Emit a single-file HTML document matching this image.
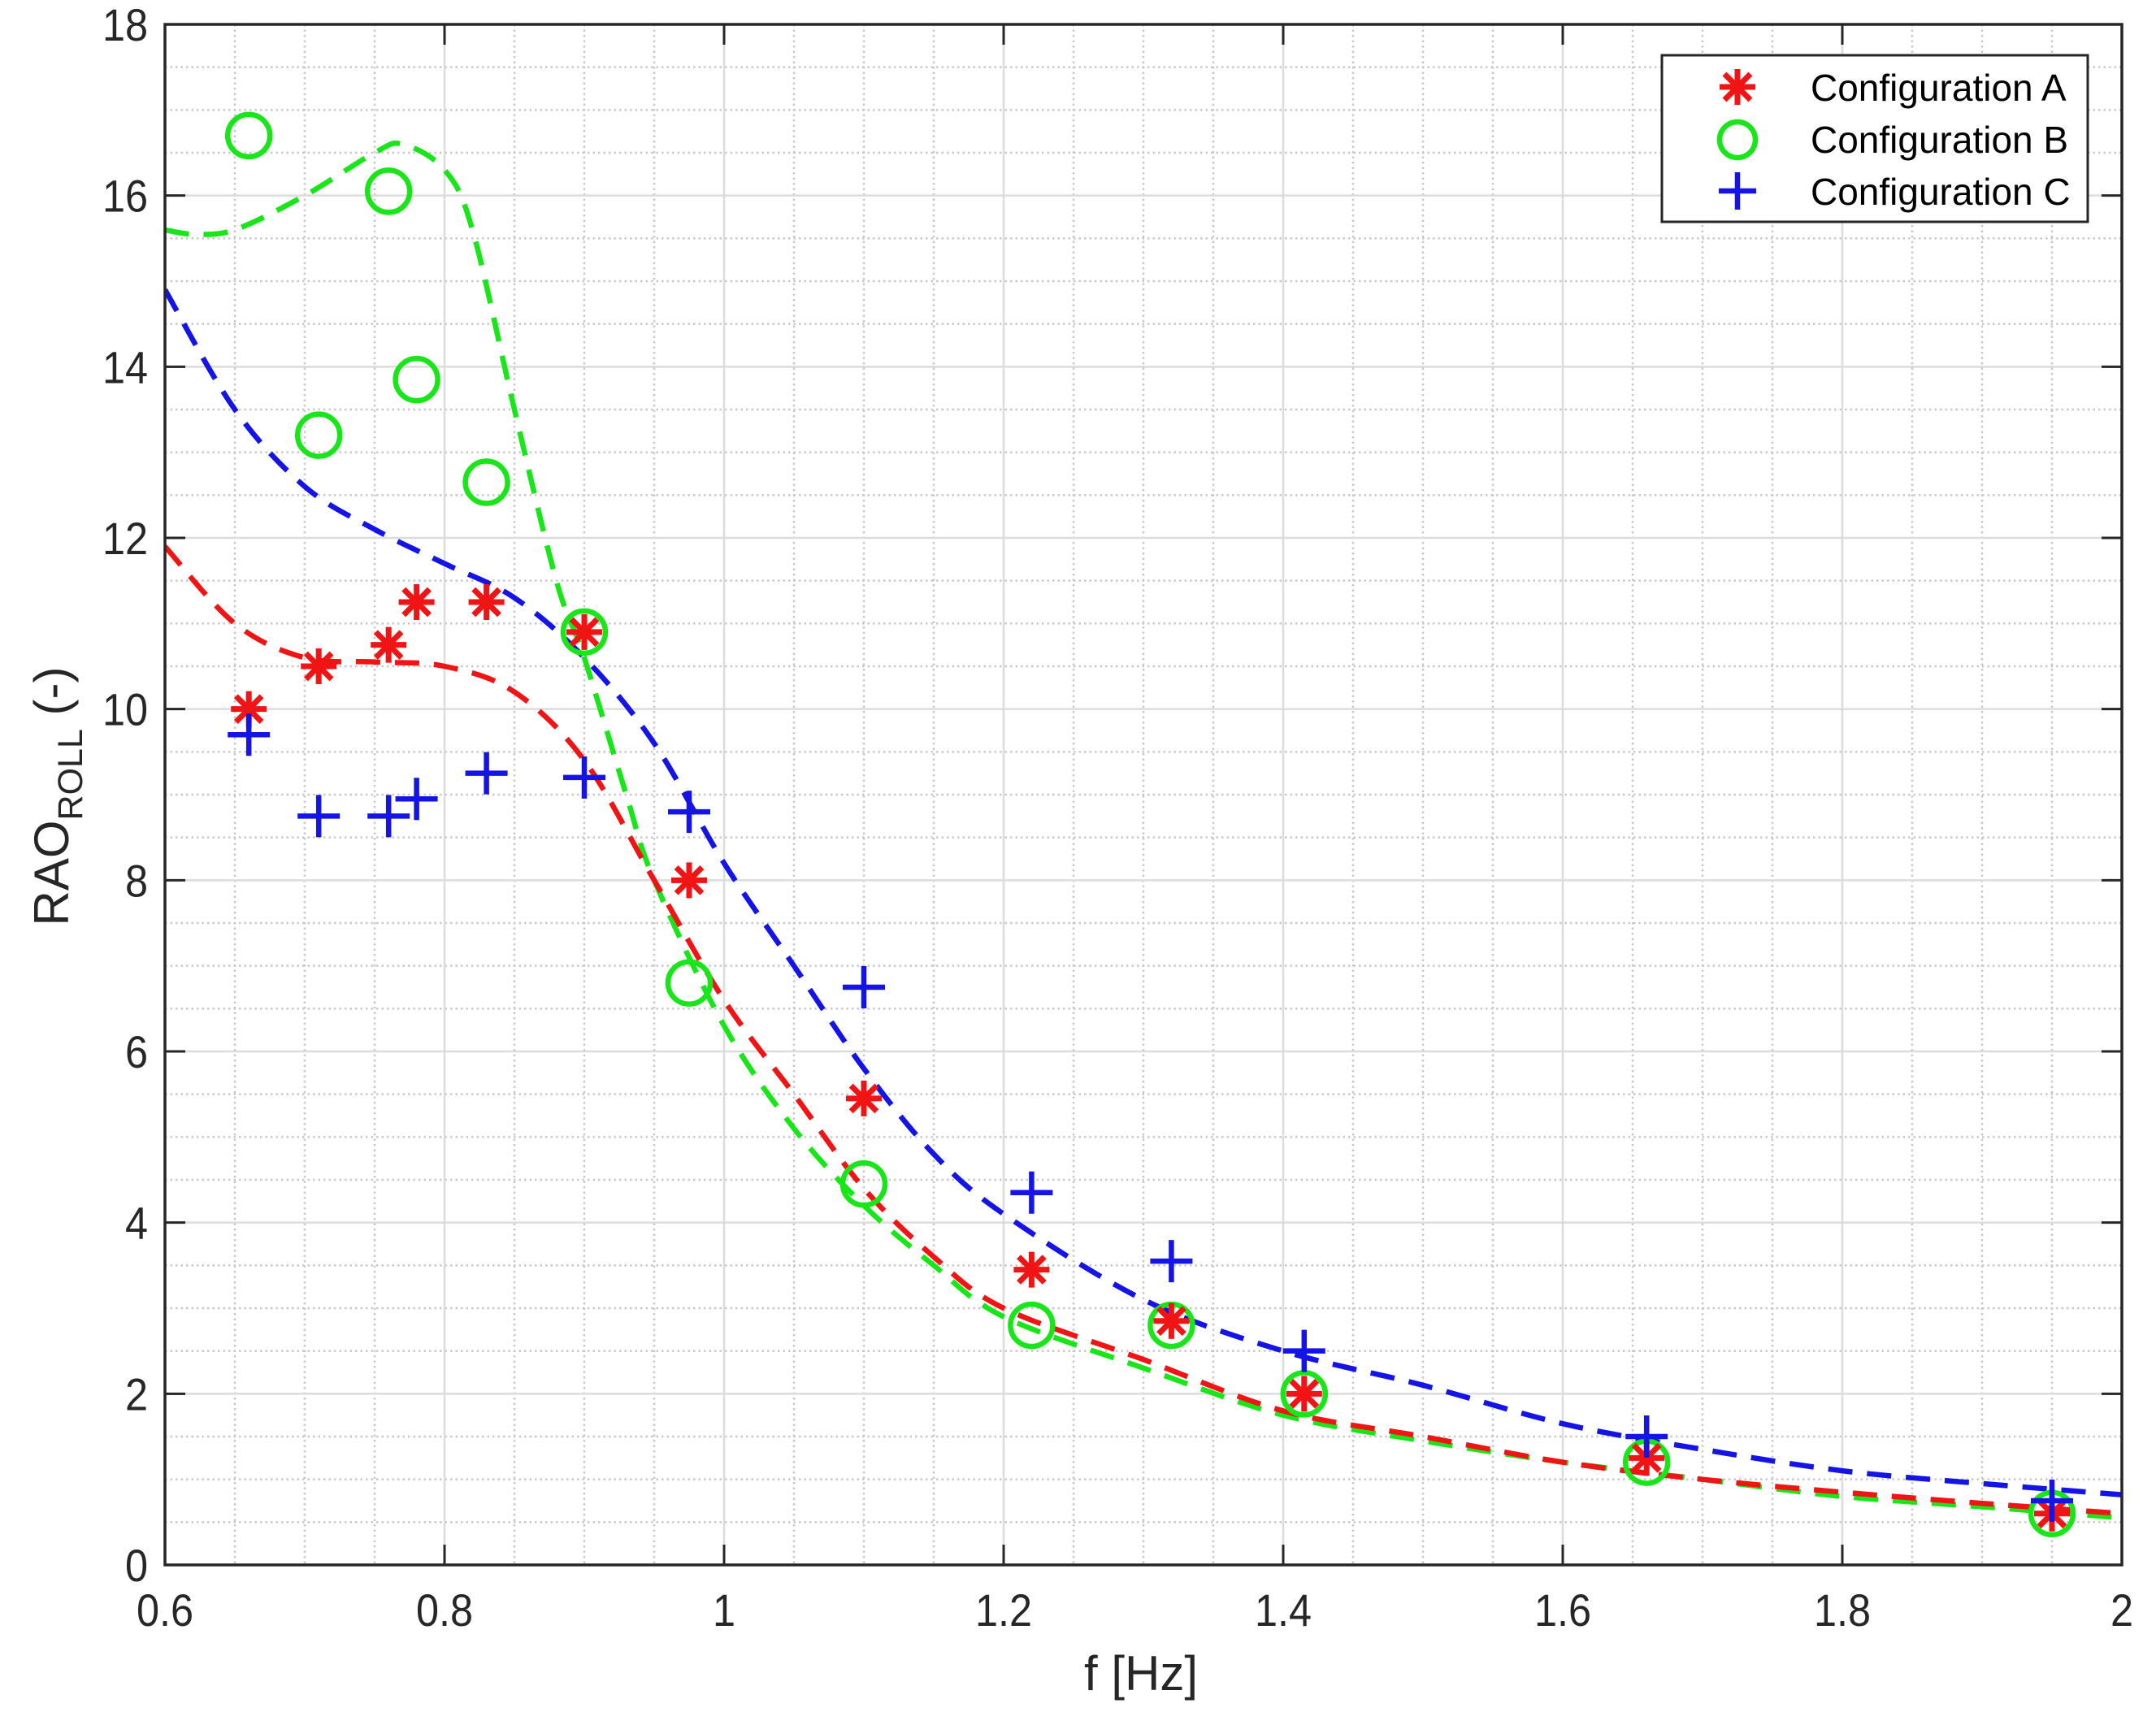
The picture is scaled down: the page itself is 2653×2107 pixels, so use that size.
<!DOCTYPE html>
<html><head><meta charset="utf-8"><style>html,body{margin:0;padding:0;background:#fff}svg{display:block}text{font-family:"Liberation Sans",Arial,sans-serif}</style></head>
<body>
<svg id="chart" width="2653" height="2107" viewBox="0 0 2653 2107" xmlns="http://www.w3.org/2000/svg">
<rect x="0" y="0" width="2653" height="2107" fill="#fff"/>
<g id="grid"></g><g id="curves"></g><g id="marks"></g><g id="axes"></g>
</svg>
<script>
const xTicks=[0.6,0.8,1,1.2,1.4,1.6,1.8,2];
const xTickLabels=["0.6","0.8","1","1.2","1.4","1.6","1.8","2"];
const yTicks=[0,2,4,6,8,10,12,14,16,18];
const yTickLabels=["0","2","4","6","8","10","12","14","16","18"];
const freqPts=[0.66,0.71,0.76,0.78,0.83,0.9,0.975,1.1,1.22,1.32,1.415,1.66,1.95];
const valsA=[10,10.5,10.75,11.25,11.25,10.9,8,5.45,3.45,2.85,2,1.25,0.6];
const valsB=[16.7,13.2,16.05,13.85,12.65,10.9,6.8,4.45,2.8,2.8,2,1.2,0.6];
const valsC=[9.7,8.75,8.75,8.95,9.25,9.2,8.8,6.75,4.35,3.55,2.5,1.5,0.75];
const fitXA=[0.6,0.65,0.7,0.75,0.8,0.85,0.9,0.95,1.0,1.05,1.1,1.15,1.2,1.3,1.4,1.5,1.6,1.7,1.8,1.9,2.0];
const fitA=[11.9,11.0,10.6,10.55,10.5,10.2,9.4,8.0,6.6,5.5,4.4,3.6,3.0,2.4,1.8,1.5,1.2,1.0,0.85,0.72,0.6];
const fitXB=[0.6,0.62,0.65,0.7,0.75,0.77,0.8,0.82,0.85,0.88,0.9,0.93,0.95,1.0,1.05,1.1,1.15,1.2,1.3,1.4,1.5,1.6,1.7,1.8,1.9,2.0];
const fitB=[15.6,15.55,15.6,16.0,16.5,16.6,16.3,15.6,13.5,11.5,10.6,9.0,8.0,6.3,5.1,4.2,3.5,2.9,2.3,1.75,1.45,1.2,1.0,0.8,0.68,0.55];
const fitXC=[0.6,0.65,0.7,0.75,0.8,0.85,0.9,0.95,1.0,1.05,1.1,1.15,1.2,1.3,1.4,1.5,1.6,1.7,1.8,1.9,2.0];
const fitC=[14.9,13.5,12.6,12.1,11.7,11.3,10.6,9.6,8.2,7.0,5.8,4.8,4.1,3.1,2.5,2.1,1.65,1.35,1.1,0.95,0.82];

const L=203,R=2611,T=30,B=1926;
const X=v=>L+(v-0.6)/1.4*(R-L);
const Y=v=>B-v/18*(B-T);
const NS="http://www.w3.org/2000/svg";
function mk(tag,attrs,parent){const e=document.createElementNS(NS,tag);for(const k in attrs)e.setAttribute(k,attrs[k]);parent.appendChild(e);return e;}
const grid=document.getElementById('grid'),curves=document.getElementById('curves'),marks=document.getElementById('marks'),axes=document.getElementById('axes');

for(let i=0;i<=28;i++){const v=0.6+i*0.05;if(i%4===0)continue;const x=X(v);
 const g=mk('line',{x1:x,x2:x,y1:T,y2:B,stroke:'#c8c8c8','stroke-width':2.5,'stroke-dasharray':'2.5 4'},grid);
 
 }
for(let i=0;i<=36;i++){if(i%4===0)continue;const y=Y(i*0.5);
 const g=mk('line',{x1:L,x2:R,y1:y,y2:y,stroke:'#c8c8c8','stroke-width':2.5,'stroke-dasharray':'2.5 4'},grid);
 
 }
xTicks.forEach(v=>{const x=X(v);const g=mk('line',{x1:x,x2:x,y1:T,y2:B,stroke:'#dcdcdc','stroke-width':2.5},grid);
 
 });
yTicks.forEach(v=>{const y=Y(v);const g=mk('line',{x1:L,x2:R,y1:y,y2:y,stroke:'#dcdcdc','stroke-width':2.5},grid);
 
 });

function curve(xs,ys,color,name){
 const P=xs.map((x,i)=>[X(x),Y(ys[i])]);
 let d='M'+P[0][0].toFixed(1)+' '+P[0][1].toFixed(1);
 for(let i=0;i<P.length-1;i++){
  const p0=P[i-1]||P[i],p1=P[i],p2=P[i+1],p3=P[i+2]||P[i+1];
  const c1=[p1[0]+(p2[0]-p0[0])/6,p1[1]+(p2[1]-p0[1])/6];
  const c2=[p2[0]-(p3[0]-p1[0])/6,p2[1]-(p3[1]-p1[1])/6];
  d+=' C'+c1[0].toFixed(1)+' '+c1[1].toFixed(1)+' '+c2[0].toFixed(1)+' '+c2[1].toFixed(1)+' '+p2[0].toFixed(1)+' '+p2[1].toFixed(1);
 }
 const p=mk('path',{d:d,fill:'none',stroke:color,'stroke-width':6.5,'stroke-dasharray':'30 18','stroke-linejoin':'round'},curves);
 
 
}
const clip=mk('clipPath',{id:'pc'},document.getElementById('chart'));
mk('rect',{x:L,y:T,width:R-L,height:B-T},clip);
curves.setAttribute('clip-path','url(#pc)');
curve(fitXB,fitB,'#19e619','fit-curve-b');
curve(fitXA,fitA,'#f01414','fit-curve-a');
curve(fitXC,fitC,'#1414e6','fit-curve-c');

function star(cx,cy,s,parent){const g=mk('g',{stroke:'#f01414','stroke-width':7,'stroke-linecap':'butt'},parent);
 mk('line',{x1:cx,x2:cx,y1:cy-s,y2:cy+s},g);mk('line',{x1:cx-s,x2:cx+s,y1:cy,y2:cy},g);
 const d=s*0.72;mk('line',{x1:cx-d,y1:cy-d,x2:cx+d,y2:cy+d},g);mk('line',{x1:cx-d,y1:cy+d,x2:cx+d,y2:cy-d},g);return g;}
function circ(cx,cy,parent){return mk('circle',{cx:cx,cy:cy,r:26,fill:'none',stroke:'#19e619','stroke-width':6.5},parent);}
function plus(cx,cy,s,parent){const g=mk('g',{stroke:'#1414e6','stroke-width':6.5},parent);
 mk('line',{x1:cx,x2:cx,y1:cy-s,y2:cy+s},g);mk('line',{x1:cx-s,x2:cx+s,y1:cy,y2:cy},g);return g;}
freqPts.forEach((f,i)=>{const e=circ(X(f),Y(valsB[i]),marks);
 
 });
freqPts.forEach((f,i)=>{const e=star(X(f),Y(valsA[i]),22,marks);
 
 });
freqPts.forEach((f,i)=>{const e=plus(X(f),Y(valsC[i]),26,marks);
 
 });

const box=mk('rect',{x:L,y:T,width:R-L,height:B-T,fill:'none',stroke:'#262626','stroke-width':3.5},axes);


xTicks.forEach((v,i)=>{const x=X(v);
 mk('line',{x1:x,x2:x,y1:B,y2:B-25,stroke:'#262626','stroke-width':3},axes);
 mk('line',{x1:x,x2:x,y1:T,y2:T+25,stroke:'#262626','stroke-width':3},axes);
 const t=mk('text',{x:0,y:0,'text-anchor':'middle','font-size':56,fill:'#262626',transform:'translate('+x+',2001) scale(0.9,1)'},axes);t.textContent=xTickLabels[i];
 
 });
yTicks.forEach((v,i)=>{const y=Y(v);
 mk('line',{x1:L,x2:L+25,y1:y,y2:y,stroke:'#262626','stroke-width':3},axes);
 mk('line',{x1:R,x2:R-25,y1:y,y2:y,stroke:'#262626','stroke-width':3},axes);
 const t=mk('text',{x:0,y:0,'text-anchor':'end','font-size':56,fill:'#262626',transform:'translate(182,'+(y+20)+') scale(0.9,1)'},axes);t.textContent=yTickLabels[i];
 
 });
</script>
<svg style="position:absolute;left:0;top:0" width="2653" height="2107" xmlns="http://www.w3.org/2000/svg">
<text x="1404" y="2080" text-anchor="middle" font-size="60" fill="#262626" font-family="Liberation Sans, sans-serif">f [Hz]</text>
<text transform="translate(84,980) rotate(-90)" text-anchor="middle" font-size="60" fill="#262626" font-family="Liberation Sans, sans-serif">RAO<tspan font-size="43" dy="17">ROLL</tspan><tspan dy="-17"> (-)</tspan></text>
<g>
<rect x="2045" y="68" width="524" height="205" fill="#fff" stroke="#262626" stroke-width="3"/>
<g>
<g stroke="#f01414" stroke-width="7"><line x1="2138" y1="85" x2="2138" y2="129"/><line x1="2116" y1="107" x2="2160" y2="107"/><line x1="2122" y1="91" x2="2154" y2="123"/><line x1="2122" y1="123" x2="2154" y2="91"/></g>
<text x="2228" y="124" font-size="46" fill="#000" font-family="Liberation Sans, sans-serif">Configuration A</text></g>
<g>
<circle cx="2138" cy="172" r="22" fill="none" stroke="#19e619" stroke-width="6.5"/>
<text x="2228" y="188" font-size="46" fill="#000" font-family="Liberation Sans, sans-serif">Configuration B</text></g>
<g>
<g stroke="#1414e6" stroke-width="6.5"><line x1="2138" y1="212" x2="2138" y2="258"/><line x1="2115" y1="235" x2="2161" y2="235"/></g>
<text x="2228" y="252" font-size="46" fill="#000" font-family="Liberation Sans, sans-serif">Configuration C</text></g>
</g>
</svg>
</body></html>
